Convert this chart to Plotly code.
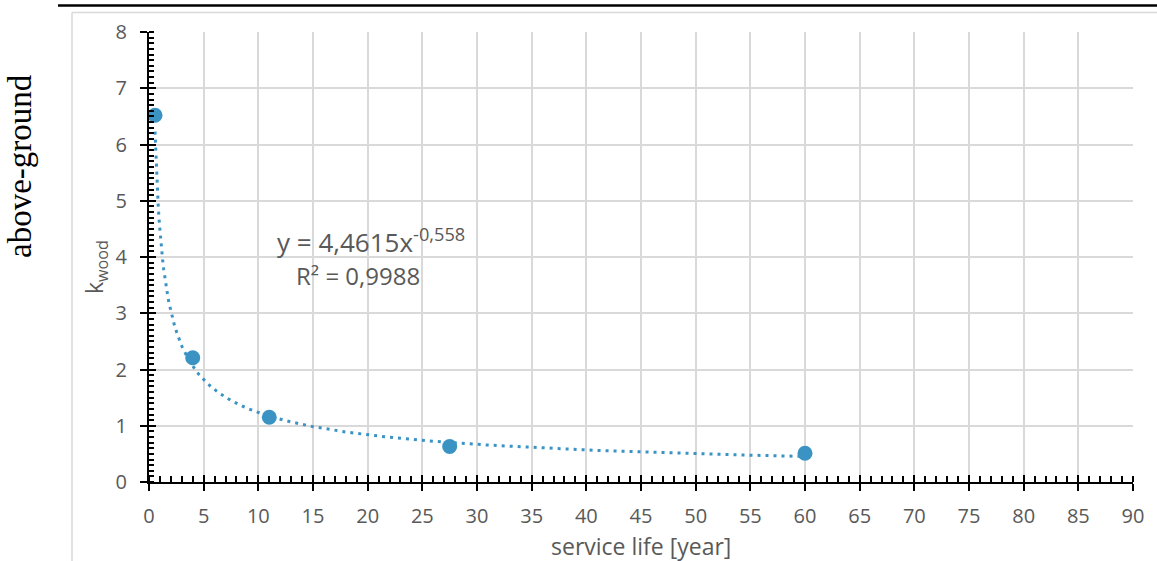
import numpy as np
import plotly.graph_objects as go

# Data
service_life = [0.55, 4, 11, 27.5, 60]
k_wood = [6.52, 2.21, 1.15, 0.63, 0.51]
fit_a = 4.4615
fit_b = -0.558
fit_r2 = "0,9988"
x_ticks = list(range(0, 95, 5))
y_ticks = list(range(0, 9, 1))

color = "#3A93C3"
font_fam = "'Open Sans', sans-serif"
grey = "#595959"

fx = np.linspace(min(service_life), max(service_life), 600)
fy = fit_a * fx ** fit_b

fig = go.Figure()
fig.add_trace(go.Scatter(x=fx, y=fy, mode="lines",
                         line=dict(color=color, width=3, dash="3px,5px"),
                         hoverinfo="skip", showlegend=False))
fig.add_trace(go.Scatter(x=service_life, y=k_wood, mode="markers",
                         marker=dict(color=color, size=15),
                         showlegend=False))
# dummy trace to activate overlay axes
fig.add_trace(go.Scatter(x=[None], y=[None], xaxis="x2", yaxis="y2", showlegend=False))

W, H = 1157, 561
l, r, t, b = 149, 24, 32, 79
pw, ph = W - l - r, H - t - b
def px(x): return (x - l) / pw
def py(y): return (H - b - y) / ph

fig.update_layout(
    width=W, height=H,
    margin=dict(l=l, r=r, t=t, b=b),
    paper_bgcolor="white", plot_bgcolor="white",
    font=dict(family=font_fam, color=grey, size=20),
    xaxis=dict(range=[0, 90], tickvals=x_ticks, showgrid=True, gridcolor="#d9d9d9", gridwidth=1.5,
               zeroline=False, showline=True, linecolor="black", linewidth=2,
               ticks="outside", ticklen=7, tickwidth=2, tickcolor="black",
               ticklabelstandoff=8,
               tickfont=dict(size=20, color=grey),
               minor=dict(dtick=1, ticks="inside", ticklen=6, tickwidth=2, tickcolor="black", showgrid=False)),
    yaxis=dict(range=[0, 8], tickvals=y_ticks, showgrid=True, gridcolor="#d9d9d9", gridwidth=1.5,
               zeroline=False, showline=True, linecolor="black", linewidth=2,
               ticks="outside", ticklen=7, tickwidth=2, tickcolor="black",
               ticklabelstandoff=9,
               tickfont=dict(size=20, color=grey),
               minor=dict(dtick=0.1, ticks="inside", ticklen=5, tickwidth=1.5, tickcolor="black", showgrid=False)),
    xaxis2=dict(overlaying="x", range=[0, 90], tickvals=x_ticks, showticklabels=False, showgrid=False,
                zeroline=False, ticks="inside", ticklen=7, tickwidth=2, tickcolor="black", side="bottom"),
    yaxis2=dict(overlaying="y", range=[0, 8], tickvals=y_ticks, showticklabels=False, showgrid=False,
                zeroline=False, ticks="inside", ticklen=7, tickwidth=2, tickcolor="black", side="left"),
)

ann = [
    dict(text="y = 4,4615x<sup>-0,558</sup>", x=371, y=241, size=26, color=grey, fam=font_fam),
    dict(text="R² = " + fit_r2, x=358, y=275, size=24, color=grey, fam=font_fam),
    dict(text="service life [year]", x=641, y=546, size=23, color=grey, fam=font_fam),
    dict(text="k<sub>wood</sub>", x=95, y=267, size=23, color=grey, fam=font_fam, angle=-90),
    dict(text="above-ground", x=20, y=166, size=33, color="black",
         fam="'Liberation Serif', 'DejaVu Serif', serif", angle=-90),
]
fig.layout.annotations = [
    dict(text=a["text"], x=px(a["x"]), y=py(a["y"]), xref="paper", yref="paper",
         xanchor="center", yanchor="middle", showarrow=False, textangle=a.get("angle", 0),
         font=dict(size=a["size"], color=a["color"], family=a["fam"]))
    for a in ann
]

fig.layout.shapes = [
    dict(type="line", xref="paper", yref="paper", x0=px(58), x1=px(W), y0=py(5.5), y1=py(5.5),
         line=dict(color="black", width=2.5)),
    dict(type="line", xref="paper", yref="paper", x0=px(72), x1=px(W), y0=py(12.5), y1=py(12.5),
         line=dict(color="#d9d9d9", width=1.5)),
    dict(type="line", xref="paper", yref="paper", x0=px(72), x1=px(72), y0=py(12.5), y1=py(H),
         line=dict(color="#d9d9d9", width=1.5)),
]

fig.write_html("out.html")
